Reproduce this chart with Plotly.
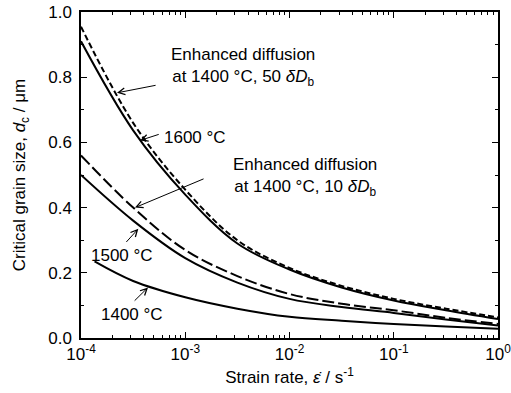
import plotly.graph_objects as go

# ---- data ----
log_rate = [-4.0, -3.5, -3.0, -2.5, -2.0, -1.5, -1.0, -0.5, 0.0]
rate = [10 ** v for v in log_rate]

d_50Db = [0.955, 0.66, 0.455, 0.30, 0.215, 0.16, 0.12, 0.09, 0.063]
d_1600 = [0.91, 0.637, 0.44, 0.29, 0.21, 0.155, 0.115, 0.085, 0.058]
d_10Db = [0.56, 0.40, 0.27, 0.19, 0.135, 0.105, 0.085, 0.062, 0.043]
d_1500 = [0.50, 0.36, 0.245, 0.17, 0.12, 0.095, 0.077, 0.057, 0.038]

log_rate_1400 = [-3.87, -3.5, -3.0, -2.5, -2.0, -1.5, -1.0, -0.5, 0.0]
rate_1400 = [10 ** v for v in log_rate_1400]
d_1400 = [0.235, 0.175, 0.125, 0.09, 0.065, 0.053, 0.043, 0.035, 0.028]

x_tickvals = [1e-4, 1e-3, 1e-2, 1e-1, 1e0]
x_ticktext = ["10<sup>-4</sup>", "10<sup>-3</sup>", "10<sup>-2</sup>", "10<sup>-1</sup>", "10<sup>0</sup>"]
x_minor_ticks = [k * 10.0 ** e for e in range(-4, 0) for k in range(2, 10)]
y_tickvals = [0.0, 0.2, 0.4, 0.6, 0.8, 1.0]

FONT = "Liberation Sans, Arial, sans-serif"

fig = go.Figure()
series = [
    (rate, d_50Db, "6px,3px"),
    (rate, d_1600, "solid"),
    (rate, d_10Db, "12px,4px"),
    (rate, d_1500, "solid"),
    (rate_1400, d_1400, "solid"),
]
for xs, ys, dash in series:
    fig.add_trace(go.Scatter(
        x=xs, y=ys, mode="lines",
        line=dict(color="black", width=2, dash=dash, shape="spline", smoothing=1.0),
        showlegend=False, hoverinfo="skip"))

ann_font = dict(family=FONT, size=17, color="black")
annotations = [
    # text labels (log10 x units for log axis)
    dict(x=-2.45, y=0.83, text="Enhanced diffusion<br>at 1400 °C, 50 <i>δD</i><sub>b</sub>", showarrow=False),
    dict(x=-2.91, y=0.615, text="1600 °C", showarrow=False),
    dict(x=-1.85, y=0.495, text="Enhanced diffusion<br>at 1400 °C, 10 <i>δD</i><sub>b</sub>", showarrow=False),
    dict(x=-3.61, y=0.252, text="1500 °C", showarrow=False),
    dict(x=-3.51, y=0.072, text="1400 °C", showarrow=False),
]
arrows = [
    ((-3.27, 0.776), (-3.655, 0.752)),
    ((-3.24, 0.626), (-3.434, 0.606)),
    ((-2.81, 0.49), (-3.482, 0.40)),
    ((-3.578, 0.29), (-3.45, 0.335)),
    ((-3.50, 0.11), (-3.357, 0.155)),
]
for (tx, ty), (hx, hy) in arrows:
    annotations.append(dict(x=hx, y=hy, ax=tx, ay=ty, axref="x", ayref="y",
                            text="", showarrow=True, arrowhead=5, arrowsize=1.3,
                            arrowwidth=1, arrowcolor="black"))
for a in annotations:
    a.setdefault("xref", "x")
    a.setdefault("yref", "y")
    a["font"] = ann_font

fig.update_layout(
    template="none",
    width=511, height=393,
    margin=dict(l=81, r=13, t=12, b=55, autoexpand=False),
    paper_bgcolor="white", plot_bgcolor="white",
    font=dict(family=FONT, color="black"),
    annotations=annotations,
)
fig.update_xaxes(
    type="log", range=[-4, 0],
    tickvals=x_tickvals, ticktext=x_ticktext,
    ticks="inside", ticklen=6, tickwidth=1, tickcolor="black",
    minor=dict(tickmode="array", tickvals=x_minor_ticks, ticks="inside", ticklen=3,
               tickwidth=1, tickcolor="black", showgrid=False),
    showline=True, linecolor="black", linewidth=1.5, mirror="ticks",
    showgrid=False, zeroline=False, automargin=False,
    ticklabeloverflow="allow",
    tickfont=dict(family=FONT, size=17, color="black"),
    title=dict(text="Strain rate, <i>ε̇</i> / s<sup>-1</sup>", font=dict(family=FONT, size=17, color="black"), standoff=8),
)
fig.update_yaxes(
    range=[0, 1.0],
    tickvals=y_tickvals, tickformat=".1f",
    ticks="inside", ticklen=6, tickwidth=1, tickcolor="black",
    minor=dict(dtick=0.1, ticks="inside", ticklen=3, tickcolor="black", showgrid=False),
    showline=True, linecolor="black", linewidth=1.5, mirror="ticks",
    showgrid=False, zeroline=False, automargin=False,
    ticklabelstandoff=4, ticklabeloverflow="allow",
    tickfont=dict(family=FONT, size=17, color="black"),
    title=dict(text="Critical grain size, <i>d</i><sub>c</sub> / μm", font=dict(family=FONT, size=17, color="black"), standoff=18),
)

fig.write_html("out.html", config={"displayModeBar": False},
               post_script="document.body.style.margin='0';")
